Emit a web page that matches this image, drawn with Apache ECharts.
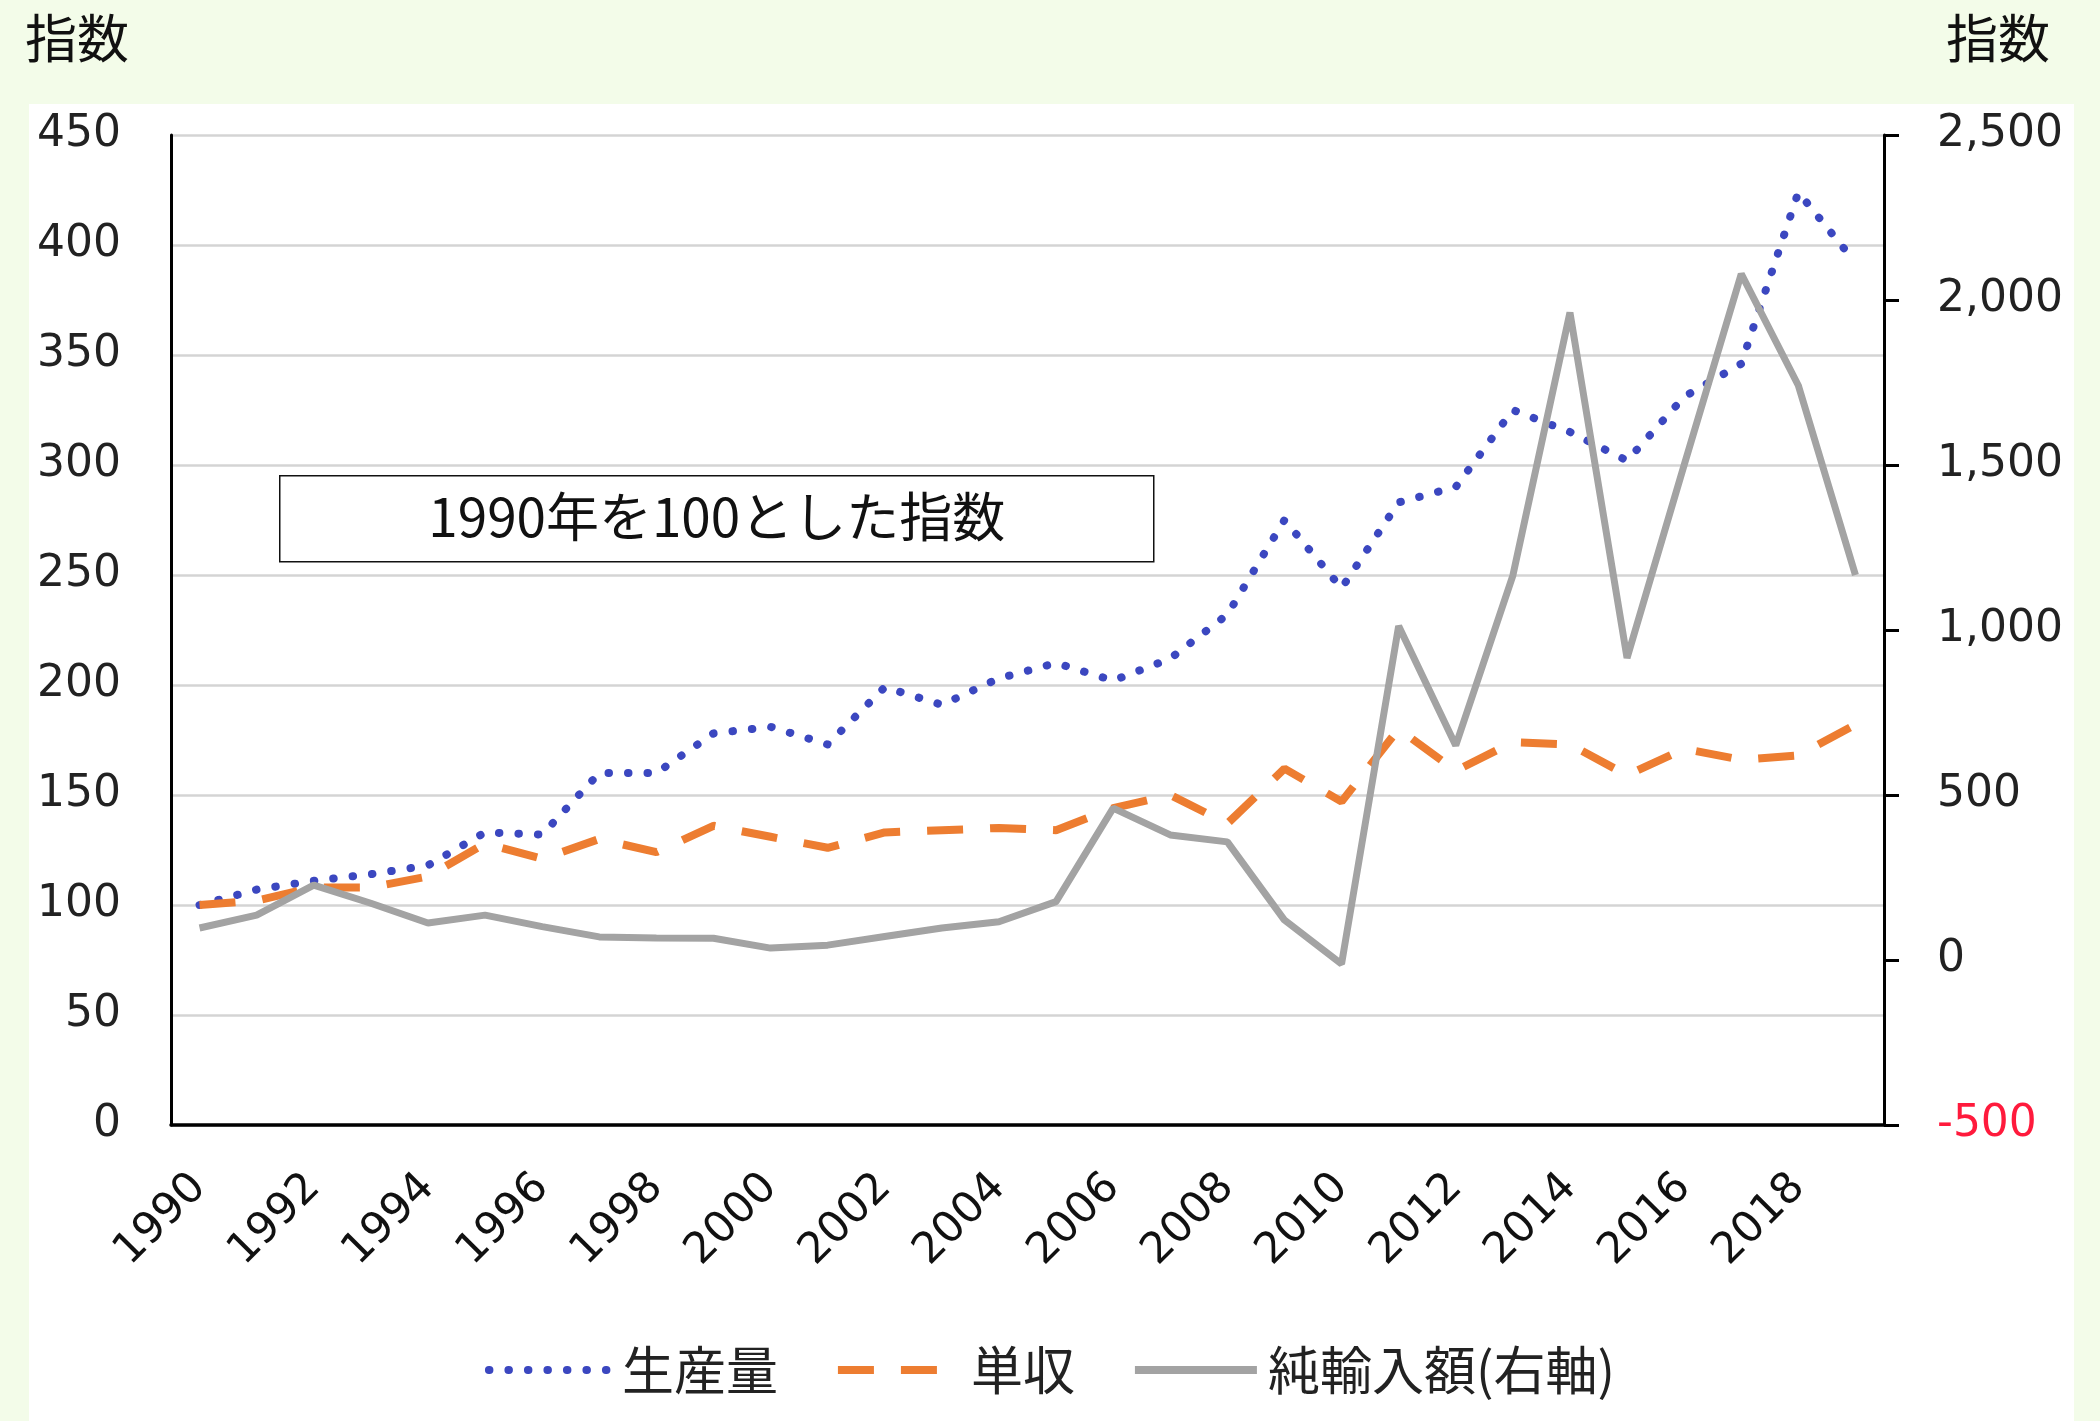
<!DOCTYPE html>
<html>
<head>
<meta charset="utf-8">
<title>生産量・単収・純輸入額の指数</title>
<script src="https://cdn.jsdelivr.net/npm/echarts@6/dist/echarts.min.js"></script>
<style>
  html, body { margin: 0; padding: 0; background: #f3fce9; }
  #chart { width: 2100px; height: 1421px; }
</style>
</head>
<body>
<div id="chart"></div>
<script>
// 年次(1990〜2019)
const years = ['1990','1991','1992','1993','1994','1995','1996','1997','1998','1999',
               '2000','2001','2002','2003','2004','2005','2006','2007','2008','2009',
               '2010','2011','2012','2013','2014','2015','2016','2017','2018','2019'];

// 生産量(1990年=100)
const production = [100, 107, 111, 114, 118, 133, 132, 160, 160, 178,
                    181, 173, 199, 191, 203, 210, 202, 212, 232, 275,
                    244, 283, 290, 325, 315, 302, 331, 346, 424, 392];

// 単収(1990年=100)
const yieldIdx = [100, 102, 108, 108, 113, 128, 121, 130, 124, 136,
                  131, 126, 133, 134, 135, 134, 144, 150, 137, 162,
                  147, 180, 161, 174, 173, 159, 171, 166, 168, 182];

// 純輸入額(1990年=100、右軸)
const netImports = [97, 136, 227, 172, 112, 136, 101, 70, 67, 66,
                    36, 45, 71, 97, 116, 177, 460, 379, 358, 121,
                    -12, 1012, 650, 1165, 1962, 915, 1500, 2079, 1741, 1167];

// 軸目盛
const leftAxis = { min: 0, max: 450, step: 50 };
const rightAxis = { min: -500, max: 2500, step: 500 };

const seriesNames = ['生産量', '単収', '純輸入額(右軸)'];
const noteText = '1990年を100とした指数';

const numFont = 'DejaVu Sans';
const jpFont = 'Noto Sans CJK JP';

const blue = '#3b47c0';
const orange = '#ed7d31';
const gray = '#a3a3a3';

const chart = echarts.init(document.getElementById('chart'), null, { renderer: 'canvas' });

chart.setOption({
  backgroundColor: '#f3fce9',
  animation: false,
  graphic: [
    {
      type: 'rect', z: -10, silent: true,
      shape: { x: 29, y: 104, width: 2045, height: 1317 },
      style: { fill: '#ffffff' }
    },
    {
      type: 'text', left: 25, top: 12, z: 10,
      style: { text: '指数', font: '52px "Noto Sans CJK JP"', fill: '#111' }
    },
    {
      type: 'text', right: 50, top: 12, z: 10,
      style: { text: '指数', font: '52px "Noto Sans CJK JP"', fill: '#111' }
    },
    {
      type: 'group', left: 279, top: 475, z: 20,
      children: [
        {
          type: 'rect',
          shape: { x: 0, y: 0, width: 874, height: 86 },
          style: { fill: '#ffffff', stroke: '#111', lineWidth: 1.5 }
        },
        {
          type: 'text',
          style: {
            x: 437, y: 41, text: noteText,
            font: '53px "Noto Sans CJK JP"', fill: '#111',
            align: 'center', verticalAlign: 'middle'
          }
        }
      ]
    }
  ],
  legend: {
    data: seriesNames,
    bottom: 20,
    left: 'center',
    itemWidth: 122,
    itemHeight: 16,
    itemGap: 56,
    itemStyle: { opacity: 0 },
    lineStyle: { width: 8 },
    textStyle: { fontFamily: jpFont, fontSize: 52, color: '#222', padding: [0, 0, 0, 6] }
  },
  grid: { left: 171, right: 216, top: 135, bottom: 296, containLabel: false },
  xAxis: {
    type: 'category',
    data: years,
    boundaryGap: true,
    axisLine: { show: true, lineStyle: { color: '#000', width: 3.5 } },
    axisTick: { show: false },
    axisLabel: {
      interval: 1,
      rotate: 45,
      margin: 56,
      fontFamily: numFont,
      fontSize: 43,
      color: '#111'
    },
    splitLine: { show: false }
  },
  yAxis: [
    {
      type: 'value',
      min: leftAxis.min, max: leftAxis.max, interval: leftAxis.step,
      position: 'left',
      axisLine: { show: true, lineStyle: { color: '#000', width: 3 } },
      axisTick: { show: false },
      axisLabel: { margin: 50, fontFamily: numFont, fontSize: 44, color: '#222' },
      splitLine: { show: true, lineStyle: { color: '#d4d4d4', width: 2.5 } }
    },
    {
      type: 'value',
      min: rightAxis.min, max: rightAxis.max, interval: rightAxis.step,
      position: 'right',
      axisLine: { show: true, lineStyle: { color: '#000', width: 3 } },
      axisTick: { show: true, inside: false, length: 15, lineStyle: { color: '#000', width: 3 } },
      axisLabel: {
        margin: 53, fontFamily: numFont, fontSize: 44,
        formatter: v => v.toLocaleString('en-US'),
        color: v => (Number(v) < 0 ? '#ff1a3c' : '#222')
      },
      splitLine: { show: false }
    }
  ],
  series: [
    {
      name: seriesNames[0],
      type: 'line',
      yAxisIndex: 0,
      data: production,
      symbol: 'none',
      itemStyle: { color: blue },
      lineStyle: { color: blue, width: 8, type: [0.5, 19], cap: 'round' },
      z: 3
    },
    {
      name: seriesNames[1],
      type: 'line',
      yAxisIndex: 0,
      data: yieldIdx,
      symbol: 'none',
      itemStyle: { color: orange },
      lineStyle: { color: orange, width: 8, type: [36, 27], cap: 'butt' },
      z: 3
    },
    {
      name: seriesNames[2],
      type: 'line',
      yAxisIndex: 1,
      data: netImports,
      symbol: 'none',
      itemStyle: { color: gray },
      lineStyle: { color: gray, width: 7 },
      z: 4
    }
  ]
});
</script>
</body>
</html>
